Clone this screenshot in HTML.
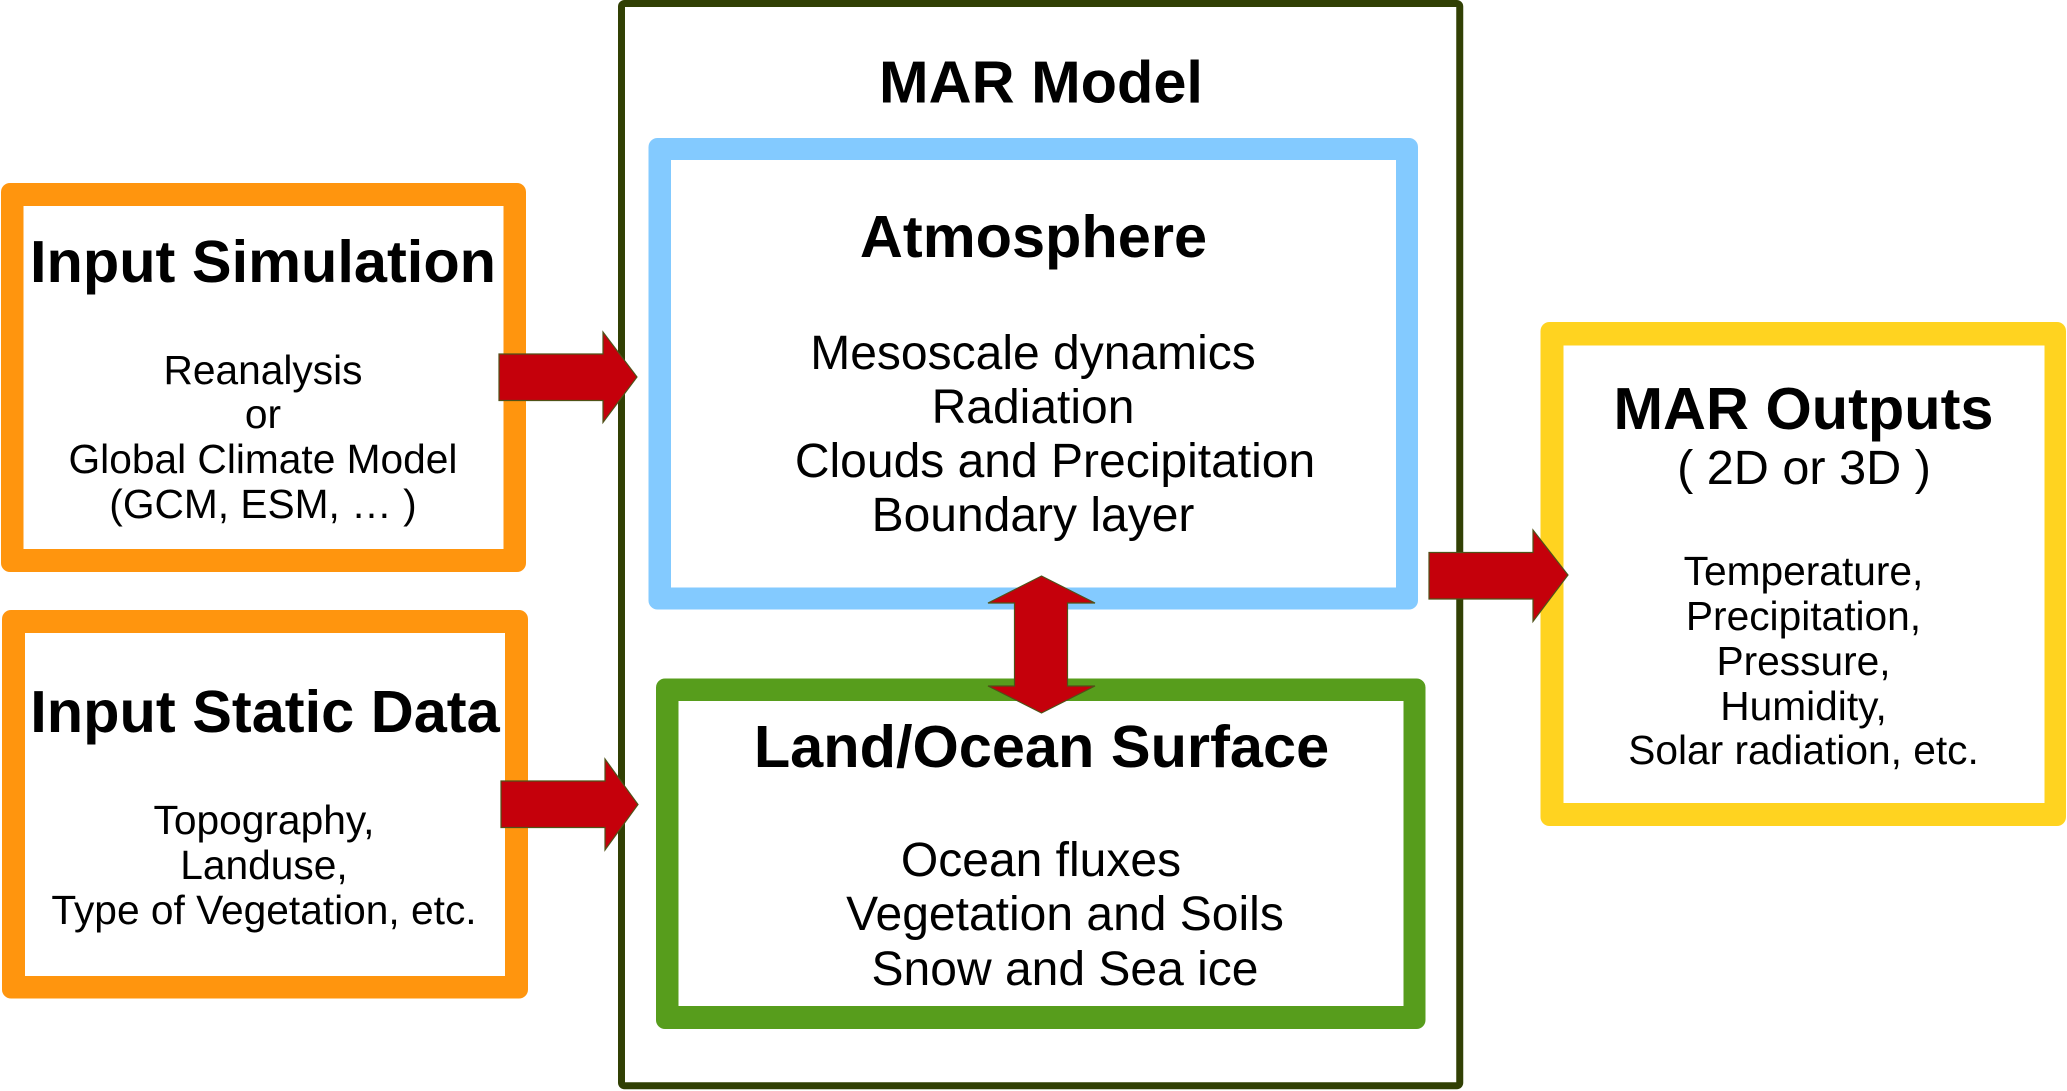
<!DOCTYPE html>
<html>
<head>
<meta charset="utf-8">
<style>
  html, body { margin: 0; padding: 0; background: #ffffff; }
  body { width: 2067px; height: 1091px; overflow: hidden; }
  svg { display: block; }
  text { font-family: "Liberation Sans", Arial, sans-serif; fill: #000; }
  .t { font-weight: bold; font-size: 59.5px; }
  .b40 { font-size: 40.7px; }
  .b47 { font-size: 48px; }
</style>
</head>
<body>
<svg width="2067" height="1091" viewBox="0 0 2067 1091" xmlns="http://www.w3.org/2000/svg">
  <rect x="0" y="0" width="2067" height="1091" fill="#ffffff"/>

  <!-- MAR Model outer frame -->
  <rect x="621.5" y="3.5" width="838.25" height="1082.25" rx="3" fill="#ffffff" stroke="#314004" stroke-width="7"/>

  <!-- Input Simulation box -->
  <rect x="1" y="183" width="525" height="389" rx="9" fill="#FF950E"/>
  <rect x="23.5" y="206" width="480" height="343" fill="#ffffff"/>

  <!-- Input Static Data box -->
  <rect x="2" y="610" width="526" height="388.5" rx="9" fill="#FF950E"/>
  <rect x="25" y="633" width="480" height="343" fill="#ffffff"/>

  <!-- Atmosphere box -->
  <rect x="648.5" y="138" width="769.5" height="471.5" rx="9" fill="#83CAFF"/>
  <rect x="671" y="160" width="725" height="427.5" fill="#ffffff"/>

  <!-- Land/Ocean box -->
  <rect x="656" y="678.5" width="769.5" height="350.5" rx="9" fill="#579D1C"/>
  <rect x="678.5" y="701" width="725" height="305" fill="#ffffff"/>

  <!-- MAR Outputs box -->
  <rect x="1540.5" y="322" width="525.5" height="504" rx="9" fill="#FFD320"/>
  <rect x="1563.5" y="345.5" width="481" height="457.5" fill="#ffffff"/>

  <!-- Arrows -->
  <g fill="#C5000B" stroke="#4f5218" stroke-width="1.2" stroke-linejoin="miter">
    <polygon points="499,354 603,354 603,332 637,377 603,422.5 603,400.5 499,400.5"/>
    <polygon points="501,781 605,781 605,759 638,804.5 605,850 605,827.5 501,827.5"/>
    <polygon points="1429,552.5 1533,552.5 1533,530 1568,575 1533,621.5 1533,599 1429,599"/>
    <polygon points="1041.5,576 1095,603 1067.5,603 1067.5,686 1095,686 1041.5,713 988,686 1014.5,686 1014.5,603 988,603"/>
  </g>

  <!-- MAR Model texts -->
  <text class="t" x="1041" y="102.5" text-anchor="middle">MAR Model</text>

  <text class="t" x="1033.5" y="257" text-anchor="middle">Atmosphere</text>
  <text class="b47" x="1033" y="369" text-anchor="middle">Mesoscale dynamics</text>
  <text class="b47" x="1033" y="423" text-anchor="middle">Radiation</text>
  <text class="b47" x="1055" y="477" text-anchor="middle">Clouds and Precipitation</text>
  <text class="b47" x="1033" y="531" text-anchor="middle">Boundary layer</text>

  <text class="t" x="1041.5" y="767" text-anchor="middle">Land/Ocean Surface</text>
  <text class="b47" x="1041" y="876" text-anchor="middle">Ocean fluxes</text>
  <text class="b47" x="1065" y="930" text-anchor="middle">Vegetation and Soils</text>
  <text class="b47" x="1065" y="985" text-anchor="middle">Snow and Sea ice</text>

  <!-- Input Simulation texts -->
  <text class="t" x="263" y="282" text-anchor="middle">Input Simulation</text>
  <text class="b40" x="263" y="384" text-anchor="middle">Reanalysis</text>
  <text class="b40" x="263" y="428" text-anchor="middle">or</text>
  <text class="b40" x="263" y="473" text-anchor="middle">Global Climate Model</text>
  <text class="b40" x="263" y="518" text-anchor="middle">(GCM, ESM, … )</text>

  <!-- Input Static Data texts -->
  <text class="t" x="265" y="732" text-anchor="middle">Input Static Data</text>
  <text class="b40" x="264" y="834" text-anchor="middle">Topography,</text>
  <text class="b40" x="264" y="879" text-anchor="middle">Landuse,</text>
  <text class="b40" x="264" y="924" text-anchor="middle">Type of Vegetation, etc.</text>

  <!-- MAR Outputs texts -->
  <text class="t" x="1803.5" y="429" text-anchor="middle">MAR Outputs</text>
  <text x="1804" y="484" text-anchor="middle" style="font-size:48.6px">( 2D or 3D )</text>
  <text class="b40" x="1803.5" y="585" text-anchor="middle">Temperature,</text>
  <text class="b40" x="1803.5" y="630" text-anchor="middle">Precipitation,</text>
  <text class="b40" x="1803.5" y="675" text-anchor="middle">Pressure,</text>
  <text class="b40" x="1803.5" y="720" text-anchor="middle">Humidity,</text>
  <text class="b40" x="1803.5" y="764" text-anchor="middle">Solar radiation, etc.</text>
</svg>
</body>
</html>
